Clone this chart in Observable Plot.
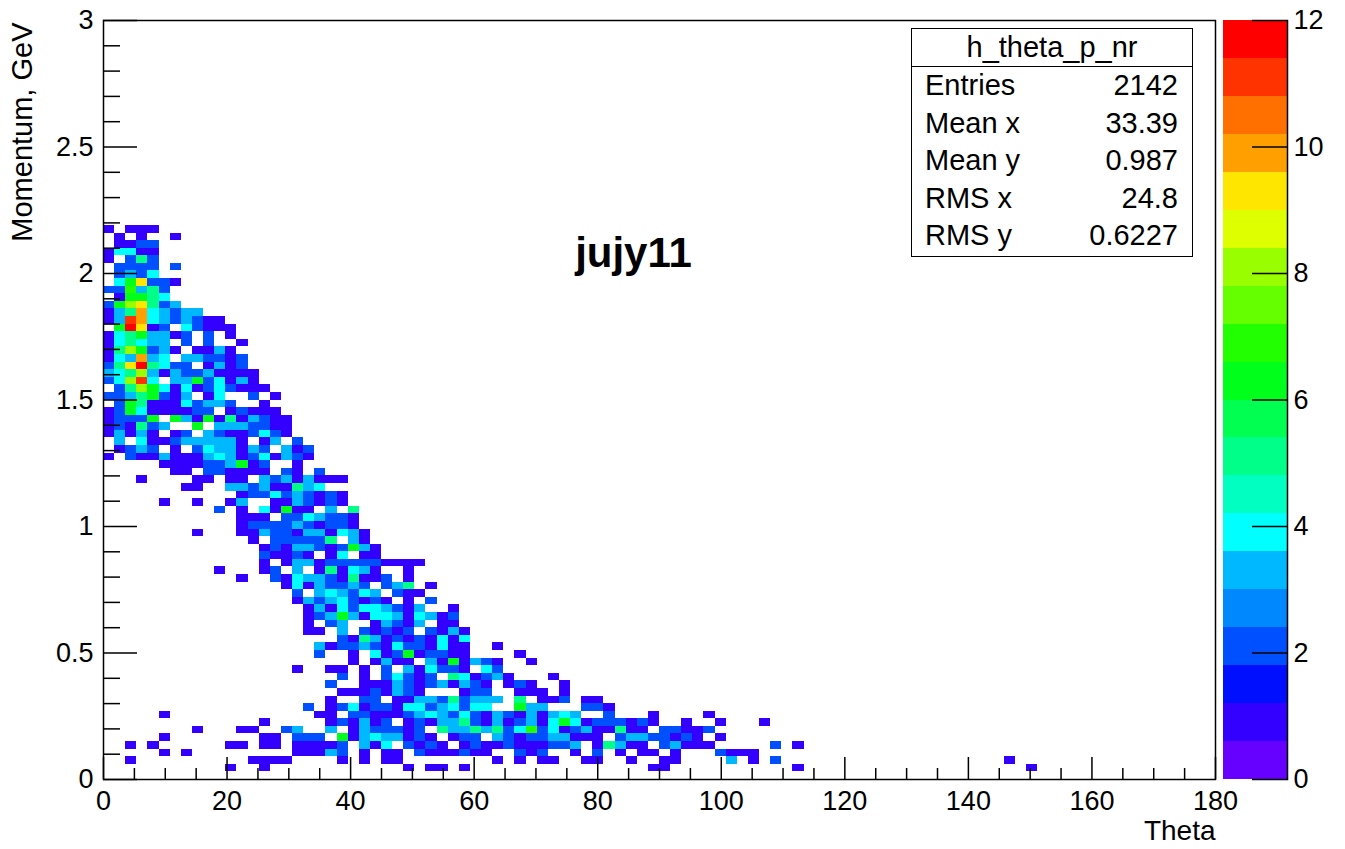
<!DOCTYPE html>
<html>
<head>
<meta charset="utf-8">
<script src="https://cdn.jsdelivr.net/npm/d3@7"></script>
<script src="https://cdn.jsdelivr.net/npm/@observablehq/plot@0.6"></script>
<style>
  html, body { margin: 0; padding: 0; background: #fff; }
  #wrap { position: relative; width: 1345px; height: 849px; overflow: hidden;
          font-family: "Liberation Sans", Arial, Helvetica, sans-serif; color: #000; }
  #main, #bar { position: absolute; top: 0; }
  #main { left: 0; }
  #bar { left: 1223px; }
  #stats { position: absolute; left: 911px; top: 28px; width: 282px; height: 229px;
           border: 1.5px solid #000; background: #fff; box-sizing: border-box; font-size: 29px; }
  #stats .hdr { height: 37px; line-height: 37px; text-align: center; border-bottom: 1.5px solid #000; }
  #stats .row { display: flex; justify-content: space-between; height: 37.5px; line-height: 37.5px;
                padding: 0 14px 0 13px; }
</style>
</head>
<body>
<div id="wrap">
  <div id="main"></div>
  <div id="bar"></div>
  <div id="stats"></div>
</div>
<script>
// ---------------- data ----------------
const histName = "h_theta_p_nr";
const histTitle = "jujy11";
const xTitle = "Theta";
const yTitle = "Momentum, GeV";
const xDomain = [0, 180];
const yDomain = [0, 3];
const xBinWidth = 1.8;   // degrees per bin (100 bins)
const yBinWidth = 0.03;  // GeV per bin (100 bins)
const zMax = 12;
const topBin = 72;       // index of the first (highest) momentum row below

// Each row: "startBin:counts" segments; '.' = empty, 1-9, a=10, b=11, c=12
const histRows = [
  "0:1.111",
  "1:1.1 6:1",
  "1:1122",
  "0:14411",
  "0:1.252",
  "1:2222 6:2",
  "1:2324",
  "1:469221",
  "0:227352",
  "1:16654",
  "0:2689523",
  "0:135a43233",
  "0:13ba4323211",
  "1:6c912 7:42111",
  "0:14563312 9:2 11:1",
  "0:145433 7:2 9:2 12:1",
  "0:1586231 8:1131",
  "0:143a34 7:332212",
  "0:259c5422 9:1312",
  "0:34583132231111",
  "0:248b4 6:33624131",
  "1:25864141242111",
  "0:22356213 9:14 13:2 15:1",
  "1:26511142332 14:1",
  "0:1264111122 11:12111",
  "0:12226 6:63161513211",
  "0:121523 8:6 10:3332211",
  "0:13131 6:12 9:32112421",
  "1:3 3:4112333331 14:13 17:2",
  "1:1232 6:1 8:2433132 16:312",
  "0:1 2:21131113431241321",
  "5:1111223612 17:1",
  "6:11 9:221111 16:21 19:2",
  "3:1 8:11 11:11 14:32313111",
  "7:11 11:332311534",
  "12:1224232121",
  "5:1 8:1 11:13 15:1132121",
  "10:2 12:1 14:41611 20:3 22:5",
  "12:111 16:2243221",
  "12:12222321221",
  "8:1 12:113221331431",
  "13:1 15:222225 22:31",
  "14:12133212631",
  "14:21121 20:14 23:11",
  "14:1 16:1331222221111",
  "10:1 14:12 17:3 19:151431 27:1",
  "12:1 15:21433215112 27:1",
  "16:14132232 25:235 29:1",
  "17:2 19:343243 26:211",
  "17:132342121 27:1 29:2",
  "18:13142443213 31:1",
  "18:12363144314312",
  "18:1 20:23 24:13213 30:11",
  "18:11 21:3 23:21212 29:2131",
  "21:215312121414",
  "19:31223214221411 35:1",
  "19:2 22:1 24:412612211 37:1",
  "22:1 24:1311 29:3161321 38:1",
  "17:1 20:11 23:1 25:2 27:314221 34:42",
  "21:2 23:1 25:24212 31:541231 40:1",
  "20:2 23:111321231321 36:121 41:1",
  "21:11121321 32:122 37:111 41:1",
  "20:1 23:22 26:1133252333 37:5 39:112 43:11",
  "18:2 20:124122144234244 37:633 43:221",
  "5:1 19:11 22:221112343242132131343 45:2 49:1 54:1",
  "14:1 20:121312 27:12133521312314641222121 52:1 55:1 59:1",
  "8:1 12:11 16:23 20:3 22:1322212 30:5335352472412311511 50:22112",
  "5:1 14:11 17:222 21:613433121 31:122 35:3212233111 46:23322121 55:1",
  "2:1 4:1 11:11 14:11 17:11112 23:314 27:2121 32:12112111223 44:15311 50:23111 60:2 62:1",
  "5:1 7:1 17:11132 23:1 25:11 28:2111211 37:212 42:1 44:2 46:1 48:11 51:1 55:2111",
  "2:1 13:1111 21:1 23:1 25:11 35:1 37:1 39:11 43:11 47:1 50:11 56:3 58:1 60:2 81:1",
  "11:1 14:1 27:1 29:11 32:1 49:11 62:1 83:1",
  ""
];

const paletteColors = [
  "#6600ff", "#3300ff", "#0010ff", "#0050ff", "#0088ff",
  "#00b8ff", "#00ffff", "#00ffc0", "#00ff88", "#00ff50",
  "#00ff1a", "#22ff00", "#66ff00", "#99ff00", "#ddff00",
  "#ffe600", "#ffa000", "#ff7000", "#ff3300", "#ff0000"
];

const xMajorTicks = [0, 20, 40, 60, 80, 100, 120, 140, 160, 180];
const yMajorTicks = [0, 0.5, 1, 1.5, 2, 2.5, 3];
const zTicks = [0, 2, 4, 6, 8, 10, 12];

const statsLabels = ["Entries", "Mean x", "Mean y", "RMS x", "RMS y"];
const statsValues = ["2142", "33.39", "0.987", "24.8", "0.6227"];

// ---------------- build ----------------
const cells = [];
histRows.forEach((row, r) => {
  const j = topBin - r;
  row.split(" ").filter(Boolean).forEach(seg => {
    const [start, chars] = seg.split(":");
    [...chars].forEach((c, k) => {
      if (c === ".") return;
      const i = +start + k;
      cells.push({
        x1: i * xBinWidth, x2: (i + 1) * xBinWidth,
        y1: j * yBinWidth, y2: (j + 1) * yBinWidth,
        n: parseInt(c, 36)
      });
    });
  });
});

const nBands = paletteColors.length;
const thresholds = d3.range(1, nBands).map(k => +(k * zMax / nBands).toFixed(4));
const bands = paletteColors.map((c, k) => ({lo: k * zMax / nBands, hi: (k + 1) * zMax / nBands, c}));

const xMinorTicks = d3.range(xDomain[0], xDomain[1] + 0.001, 5).filter(v => v % 20 !== 0);
const yMinorTicks = d3.range(1, 30).map(k => +(k * 0.1).toFixed(1)).filter(v => Math.abs(v * 2 - Math.round(v * 2)) > 1e-6);

const W = 1345, H = 849;
const mL = 103, mR = 130, mT = 20, mB = 70;
const innerW = W - mL - mR, innerH = H - mT - mB;
const font = "'Liberation Sans', Arial, Helvetica, sans-serif";

const main = Plot.plot({
  width: W, height: H,
  marginLeft: mL, marginRight: mR, marginTop: mT, marginBottom: mB,
  style: {fontFamily: font, fontSize: "27px", color: "#000", background: "transparent", overflow: "visible"},
  x: {domain: xDomain},
  y: {domain: yDomain},
  color: {type: "threshold", domain: thresholds, range: paletteColors},
  marks: [
    Plot.rect(cells, {x1: "x1", x2: "x2", y1: "y1", y2: "y2", fill: "n", shapeRendering: "crispEdges"}),
    Plot.frame({stroke: "#000", strokeWidth: 1.5}),
    Plot.tickY(yMajorTicks, {y: d => d, insetRight: innerW - 34, stroke: "#000", strokeWidth: 1.5}),
    Plot.tickY(yMinorTicks, {y: d => d, insetRight: innerW - 17, stroke: "#000", strokeWidth: 1.5}),
    Plot.tickX(xMajorTicks, {x: d => d, insetTop: innerH - 22, stroke: "#000", strokeWidth: 1.5}),
    Plot.tickX(xMinorTicks, {x: d => d, insetTop: innerH - 11, stroke: "#000", strokeWidth: 1.5}),
    Plot.axisX({ticks: xMajorTicks, tickSize: 0, tickPadding: 11, label: null, tickFormat: d => String(d)}),
    Plot.axisY({ticks: yMajorTicks, tickSize: 0, tickPadding: 10, label: null, tickFormat: d => String(d)}),
    Plot.text([xTitle], {text: d => d, frameAnchor: "bottom-right", dy: 60, textAnchor: "end", fontSize: 28}),
    Plot.text([yTitle], {text: d => d, frameAnchor: "top-left", dx: -92, dy: 2, rotate: -90, textAnchor: "end", fontSize: 29}),
    Plot.text([histTitle], {text: d => d, frameAnchor: "top", dx: -26, dy: 217, fontSize: 42, fontWeight: "bold"})
  ]
});
document.getElementById("main").appendChild(main);

const barW = 64;
const bar = Plot.plot({
  width: 122, height: H,
  marginLeft: 0, marginRight: 122 - barW, marginTop: mT, marginBottom: mB,
  style: {fontFamily: font, fontSize: "27px", color: "#000", background: "transparent", overflow: "visible"},
  y: {domain: [0, zMax]},
  color: {type: "identity"},
  marks: [
    Plot.rect(bands, {y1: "lo", y2: "hi", fill: "c", shapeRendering: "crispEdges"}),
    Plot.frame({anchor: "right", stroke: "#000", strokeWidth: 1.5}),
    Plot.tickY(zTicks, {y: d => d, insetLeft: barW - 35, stroke: "#000", strokeWidth: 1.5}),
    Plot.axisY({anchor: "right", ticks: zTicks, tickSize: 0, tickPadding: 6, label: null, tickFormat: d => String(d)})
  ]
});
document.getElementById("bar").appendChild(bar);

const stats = document.getElementById("stats");
const hdr = document.createElement("div");
hdr.className = "hdr";
hdr.textContent = histName;
stats.appendChild(hdr);
statsLabels.forEach((lab, k) => {
  const row = document.createElement("div");
  row.className = "row";
  const a = document.createElement("span"); a.textContent = lab;
  const b = document.createElement("span"); b.textContent = statsValues[k];
  row.appendChild(a); row.appendChild(b);
  stats.appendChild(row);
});
</script>
</body>
</html>
